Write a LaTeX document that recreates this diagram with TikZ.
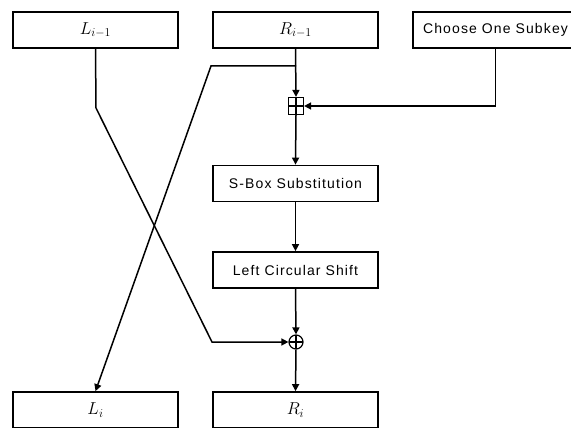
\documentclass[tikz,border=0pt]{standalone}
\usepackage{fontspec}
\setmainfont[LetterSpace=8]{Liberation Sans}
\usetikzlibrary{arrows.meta}
\tikzset{
  block/.style={draw, line width=1.7pt, minimum width=165pt, minimum height=36pt, inner sep=0pt,
                font=\fontsize{14}{16}\selectfont},
  half/.style={block, font=\fontsize{17}{19}\selectfont},
  flow/.style={-{Triangle[length=7pt,width=7pt]}, line width=1.5pt},
  crossed/.style={path picture={\draw[line width=1.2pt]
      (path picture bounding box.north) -- (path picture bounding box.south)
      (path picture bounding box.west) -- (path picture bounding box.east);}},
  addbox/.style={draw, line width=1.2pt, minimum width=15pt, minimum height=17pt, inner sep=0pt, crossed},
  xorcirc/.style={draw, circle, line width=1.2pt, minimum size=14pt, inner sep=0pt, crossed},
}

\begin{document}
\begin{tikzpicture}[x=1pt, y=-1pt]
    \useasboundingbox (0,0) rectangle (571,428);
    \node[half]  (Lprev)  at (95.5,30)   {$L_{i-1}$};
    \node[half]  (Rprev)  at (295.5,30)  {$R_{i-1}$};
    \node[block] (subkey) at (495.5,30)  {Choose One Subkey};
    \node[addbox] (add)   at (296,106)   {};
    \node[block] (sbox)   at (295.5,183.5) {S-Box Substitution};
    \node[block] (lcs)    at (295.5,270) {Left Circular Shift};
    \node[xorcirc] (xor)  at (296,342)   {};
    \node[half]  (Lnext)  at (95.5,410)  {$L_{i}$};
    \node[half]  (Rnext)  at (295.5,410) {$R_{i}$};
    \coordinate (split) at (296,66);
    \coordinate (rbend) at (211,66);
    \coordinate (lbend) at (96,108);
    \coordinate (lturn) at (212,342);
    % right half through the round function
    \draw[flow] (Rprev.south) -- (add.north);
    \draw[flow] (subkey.south) |- (add.east);
    \draw[flow] (add.south) -- (sbox.north);
    \draw[flow] (sbox.south) -- (lcs.north);
    \draw[flow] (lcs.south) -- (xor.north);
    \draw[flow] (xor.south) -- (Rnext.north);
    % crossing halves
    \draw[flow] (split) -- (rbend) -- (Lnext.north);
    \draw[flow] (Lprev.south) -- (lbend) -- (lturn) -- (xor.west);
\end{tikzpicture}
\end{document}
